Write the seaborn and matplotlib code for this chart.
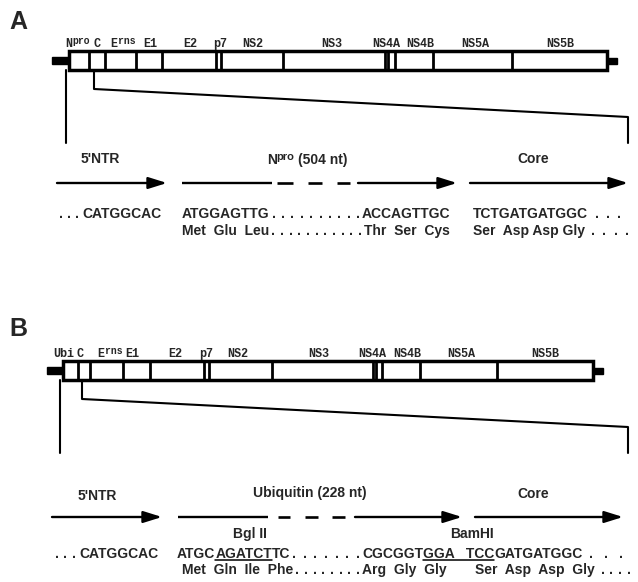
import numpy as np
import pandas as pd
import seaborn as sns
import matplotlib
matplotlib.use("Agg")
import matplotlib.pyplot as plt

# genome maps: borders of the coding regions (figure pixel units)
a_bounds = [69, 89, 105, 136, 162, 216, 221, 283, 385, 388, 395, 433, 512, 607]
b_bounds = [63, 78, 90, 123, 150, 204, 209, 272, 373, 376, 382, 420, 497, 593]

# region labels (base, superscript) and their centres
a_names = [("N", "pro"), ("C", ""), ("E", "rns"), ("E1", ""), ("E2", ""), ("p7", ""),
           ("NS2", ""), ("NS3", ""), ("NS4A", ""), ("NS4B", ""), ("NS5A", ""), ("NS5B", "")]
a_name_x = [78, 97, 123, 150, 190, 220, 253, 332, 386, 420, 475, 560]
b_names = [("Ubi", ""), ("C", ""), ("E", "rns"), ("E1", ""), ("E2", ""), ("p7", ""),
           ("NS2", ""), ("NS3", ""), ("NS4A", ""), ("NS4B", ""), ("NS5A", ""), ("NS5B", "")]
b_name_x = [64, 80, 110, 132, 175, 206, 238, 319, 372, 407, 461, 545]

# expanded view: arrows (start, end) and dashes of the middle gene
a_arrows = [(57, 167), (358, 457), (470, 628)]
a_solid = (182, 272)
a_dashes = [(277, 293), (308, 322), (337, 350)]
b_arrows = [(52, 162), (355, 462), (475, 623)]
b_solid = (178, 268)
b_dashes = [(278, 290), (305, 318), (332, 345)]

sns.set_style("white")
plt.rcParams["font.family"] = ["Liberation Sans", "DejaVu Sans"]

fig = plt.figure(figsize=(6.38, 5.82), dpi=100)
ax = fig.add_axes([0, 0, 1, 1])
rend = fig.canvas.get_renderer()

MONO = dict(family="Liberation Mono", weight="bold", fontsize=8.5)
SANS = dict(family="Liberation Sans", weight="bold", fontsize=10)


def row(x, y, pieces, ha="left", base=SANS):
    # put text pieces one after another; pieces can be underlined, raised,
    # pinned to an x ("at") or be a run of evenly spaced dots ("dots", "to")
    arts = []
    cx = x
    for p in pieces:
        if isinstance(p, str):
            p = (p, {})
        txt, opt = p
        if "at" in opt:
            cx = opt["at"]
        style = dict(base)
        style.update(opt.get("style", {}))
        if "dots" in opt:
            for dx in np.linspace(cx + opt.get("pad", 4), opt["to"] - 3, opt["dots"]):
                ax.text(dx, y, ".", va="baseline", ha="center", **style)
            cx = opt["to"]
            continue
        t = ax.text(cx, y - opt.get("dy", 0), txt, va="baseline", ha="left", **style)
        w = t.get_window_extent(rend).width
        arts.append((t, cx, w, opt))
        cx += w + opt.get("gap", 0)
    shift = -(cx - x) / 2 if ha == "center" else 0
    for t, x0, w, opt in arts:
        t.set_x(x0 + shift)
        if opt.get("under"):
            ax.plot([x0 + shift, x0 + shift + w], [y + 2.2, y + 2.2], color="k", lw=1.1)


def genome(bounds, top, bot, names, name_x, stub_l, stub_r):
    ax.add_patch(plt.Rectangle((bounds[0], top), bounds[-1] - bounds[0], bot - top,
                               fill=False, lw=2.5, ec="k"))
    ax.vlines(bounds[1:-1], top, bot, color="k", lw=2.0)
    mid = (top + bot) / 2
    ax.add_patch(plt.Rectangle((stub_l, mid - 3.5), bounds[0] - stub_l, 7, color="k"))
    ax.add_patch(plt.Rectangle((bounds[-1], mid - 3), stub_r - bounds[-1], 6, color="k"))
    for (nm, sup), x in zip(names, name_x):
        pieces = [nm]
        if sup:
            pieces.append((sup, {"dy": 3, "style": {"fontsize": 7}}))
        row(x, top - 4, pieces, ha="center", base=MONO)


def arrows(y, arr, solid, dashes):
    for x0, x1 in arr:
        ax.annotate("", xy=(x1, y), xytext=(x0, y),
                    arrowprops=dict(arrowstyle="-|>,head_length=0.8,head_width=0.25",
                                    lw=1.7, color="k", mutation_scale=14,
                                    shrinkA=0, shrinkB=0))
    ax.plot(solid, [y, y], color="k", lw=1.7, solid_capstyle="butt")
    for x0, x1 in dashes:
        ax.plot([x0, x1], [y, y], color="k", lw=1.9, solid_capstyle="butt")


def zoom_lines(left_x, top, start_x, knee_y, end_y, base_y):
    left = pd.DataFrame({"x": [left_x, left_x], "y": [top, base_y]})
    slant = pd.DataFrame({"x": [start_x, start_x, 628, 628],
                          "y": [top, knee_y, end_y, base_y]})
    for d in (left, slant):
        sns.lineplot(data=d, x="x", y="y", sort=False, color="k", lw=1.5, ax=ax,
                     estimator=None)


# ---------------- panel A ----------------
ax.text(18, 29, "A", fontsize=18, weight="bold", ha="center", va="baseline")
genome(a_bounds, 51, 70, a_names, a_name_x, 52, 617)
zoom_lines(66, 70, 94, 89, 117, 143)

row(100, 163, ["5'NTR"], ha="center")
row(307, 164, ["N", ("pro", {"dy": 4, "style": {"fontsize": 8}, "gap": 3}), "(504 nt)"],
    ha="center", base=dict(SANS, weight="semibold"))
row(533, 163, ["Core"], ha="center")
arrows(183, a_arrows, a_solid, a_dashes)

row(57, 218, [("", {"dots": 3, "to": 80}), ("CATGGCAC", {"at": 82})])
row(182, 218, ["ATGGAGTTG", ("", {"dots": 10, "to": 361}), ("ACCAGTTGC", {"at": 362}),
               ("TCTGATGATGGC", {"at": 473}), ("", {"dots": 3, "to": 622, "pad": 9})])
row(182, 235, ["Met  Glu  Leu", ("", {"dots": 11, "to": 363}), ("Thr  Ser  Cys", {"at": 364}),
               ("Ser  Asp Asp Gly", {"at": 473}), ("", {"dots": 4, "to": 630, "pad": 8})])

# ---------------- panel B ----------------
ax.text(18, 336, "B", fontsize=18, weight="bold", ha="center", va="baseline")
genome(b_bounds, 361, 380, b_names, b_name_x, 47, 603)
zoom_lines(60, 380, 82, 399, 427, 453)

row(97, 500, ["5'NTR"], ha="center")
row(310, 497, ["Ubiquitin (228 nt)"], ha="center", base=dict(SANS, weight="semibold"))
row(533, 498, ["Core"], ha="center")
arrows(517, b_arrows, b_solid, b_dashes)
row(250, 538, ["Bgl II"], ha="center")
row(472, 538, ["BamHI"], ha="center")

row(53, 558, [("", {"dots": 3, "to": 77}), ("CATGGCAC", {"at": 79})])
row(177, 558, ["ATGC", ("AGATCT", {"under": True}), "TC", ("", {"dots": 7, "to": 361}),
               ("CGCGGT", {"at": 362}), ("GGA   TCC", {"under": True}), "GATGATGGC",
               ("", {"dots": 3, "to": 624, "pad": 9})])
row(182, 574, ["Met  Gln  Ile  Phe", ("", {"dots": 8, "to": 361}),
               ("Arg  Gly  Gly", {"at": 362}), ("Ser  Asp  Asp  Gly", {"at": 475}),
               ("", {"dots": 4, "to": 632, "pad": 8})])

ax.set_xlim(0, 638)
ax.set_ylim(582, 0)
ax.axis("off")
fig.savefig("out.png", dpi=100)
